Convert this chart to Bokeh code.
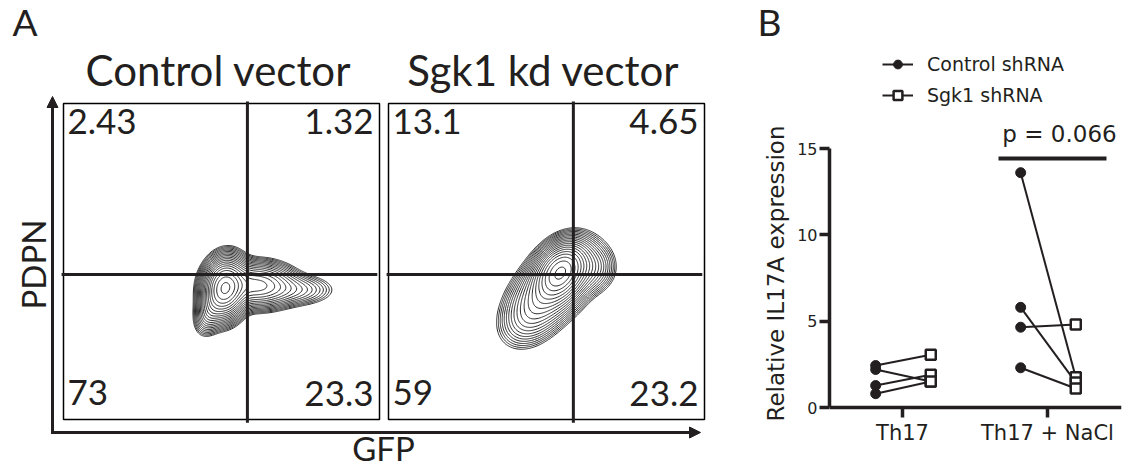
import numpy as np
from bokeh.plotting import figure
from bokeh.plotting.contour import contour_data
from bokeh.models import Range1d, Label, Arrow, NormalHead, FixedTicker, Legend, LegendItem
from bokeh.layouts import row
from bokeh.embed import file_html
from bokeh.resources import INLINE

FONT_A = "Lato"
FONT_B = "DejaVu Sans"
INK = "#231f20"

# ---------------- Panel A data ----------------
panel_titles = ["Control vector", "Sgk1 kd vector"]
ctrl_quadrants = ["2.43", "1.32", "73", "23.3"]   # UL, UR, LL, LR
kd_quadrants = ["13.1", "4.65", "59", "23.2"]
ctrl_gate = [0.582, 0.459]   # GFP gate, PDPN gate (fraction of axis)
kd_gate = [0.585, 0.459]
# density components (centre x, centre y, sd x, sd y, correlation, weight)
ctrl_cx = [0.51, 0.61, 0.73, 0.465]
ctrl_cy = [0.415, 0.425, 0.41, 0.345]
ctrl_sx = [0.033, 0.06, 0.065, 0.025]
ctrl_sy = [0.046, 0.035, 0.026, 0.038]
ctrl_rho = [0.1, 0.0, 0.0, 0.3]
ctrl_w = [1.0, 0.35, 0.07, 0.12]
kd_cx = [0.545, 0.52, 0.45, 0.64]
kd_cy = [0.47, 0.42, 0.32, 0.48]
kd_sx = [0.04, 0.065, 0.05, 0.04]
kd_sy = [0.045, 0.065, 0.05, 0.04]
kd_rho = [0.3, 0.5, 0.3, 0.0]
kd_w = [1.0, 0.4, 0.08, 0.1]

# ---------------- Panel B data ----------------
groups = ["Th17", "Th17 + NaCl"]
series = ["Control shRNA", "Sgk1 shRNA"]
th17_control = [2.43, 2.2, 1.27, 0.8]
th17_sgk1 = [3.06, 1.5, 1.9, 1.5]
nacl_control = [13.6, 5.8, 4.65, 2.3]
nacl_sgk1 = [1.75, 1.45, 4.8, 1.1]
y_ticks = [0, 5, 10, 15]
y_label = "Relative IL17A expression"
p_text = "p = 0.066"


def density(cx, cy, sx, sy, rho, w, n=301):
    g = np.linspace(0, 1, n)
    X, Y = np.meshgrid(g, g)
    Z = np.zeros_like(X)
    for a, b, s, t, r, k in zip(cx, cy, sx, sy, rho, w):
        dx = (X - a) / s
        dy = (Y - b) / t
        q = (dx * dx - 2 * r * dx * dy + dy * dy) / (1 - r * r)
        Z += k * np.exp(-0.5 * q)
    return g, g, Z / Z.max()


def text_label(x, cap_mid, text, size, font=FONT_A, align="left", **extra):
    """Label whose capital letters are vertically centred on cap_mid (page pixels)."""
    return Label(x=x, y=cap_mid - 0.07 * size, text=text, text_align=align, text_baseline="middle",
                 text_font=font, text_font_size=f"{size}px", text_color=INK, **extra)


# ---------------- Panel A figure (also hosts panel B's letter and y title) ----------------
W_TOTAL, HA = 1128, 467
WA = 790
pA = figure(width=WA, height=HA, x_range=Range1d(0, WA), y_range=Range1d(HA, 0),
            output_backend="svg", toolbar_location=None, min_border=0,
            x_axis_location=None, y_axis_location=None)
pA.grid.visible = False
pA.outline_line_color = None

BOX = 316
BOX_TOP = 103
BOX_BOTTOM = BOX_TOP + BOX
box_left = [63, 388]
levels = np.geomspace(0.012, 0.93, 20)

panels = [
    (ctrl_quadrants, ctrl_gate, (ctrl_cx, ctrl_cy, ctrl_sx, ctrl_sy, ctrl_rho, ctrl_w)),
    (kd_quadrants, kd_gate, (kd_cx, kd_cy, kd_sx, kd_sy, kd_rho, kd_w)),
]
for i, (quads, gate, comps) in enumerate(panels):
    x0 = box_left[i]
    xn, yn = f"gx{i}", f"gy{i}"
    pA.extra_x_ranges[xn] = Range1d((0 - x0) / BOX, (WA - x0) / BOX)
    pA.extra_y_ranges[yn] = Range1d((BOX_BOTTOM - HA) / BOX, BOX_BOTTOM / BOX)
    gx, gy, Z = density(*comps)
    cd = contour_data(gx, gy, Z, levels, want_fill=False, want_line=True)
    pA.multi_line(xs=cd.line_data.xs, ys=cd.line_data.ys, line_color="#2a2a2a", line_width=1,
                  x_range_name=xn, y_range_name=yn)
    pA.quad(left=0, right=1, bottom=0, top=1, fill_alpha=0, line_color="black", line_width=1.5,
            x_range_name=xn, y_range_name=yn)
    pA.segment(x0=[gate[0], -0.006], y0=[-0.01, gate[1]], x1=[gate[0], 0.993], y1=[1.006, gate[1]],
               line_color=INK, line_width=3, x_range_name=xn, y_range_name=yn)
    # quadrant percentages
    pA.add_layout(text_label(x0 + 4, BOX_TOP + 20, quads[0], 35))
    pA.add_layout(text_label(x0 + BOX - 6, BOX_TOP + 20, quads[1], 35, align="right"))
    pA.add_layout(text_label(x0 + 4, BOX_BOTTOM - 24.5, quads[2], 35))
    pA.add_layout(text_label(x0 + BOX - 6, BOX_BOTTOM - 24, quads[3], 35, align="right"))
    pA.add_layout(text_label(x0 + BOX / 2 - 3, 72.5, panel_titles[i], 42, align="center"))

# axis arrows
pA.add_layout(Arrow(end=NormalHead(size=11, fill_color=INK, line_color=INK), x_start=52, y_start=433,
                    x_end=52, y_end=96, line_width=3, line_color=INK))
pA.add_layout(Arrow(end=NormalHead(size=11, fill_color=INK, line_color=INK), x_start=50.5, y_start=432,
                    x_end=700, y_end=432, line_width=3, line_color=INK))
pA.add_layout(text_label(12, 24, "A", 37))
pA.add_layout(Label(x=32, y=264, text="PDPN", angle=np.pi / 2, text_align="center", text_baseline="middle",
                    text_font=FONT_A, text_font_size="33px", text_color=INK))
pA.add_layout(text_label(383, 450, "GFP", 33, align="center"))
# panel B letter and y-axis title (left of panel B's axis)
pA.add_layout(text_label(757, 24, "B", 37))
pA.add_layout(Label(x=775, y=273, text=y_label, angle=np.pi / 2, text_align="center",
                    text_baseline="middle", text_font=FONT_B, text_font_size="23px", text_color=INK))

# ---------------- Panel B figure ----------------
WB = W_TOTAL - WA
FL, FR = 829, 1121          # frame left/right in page pixels
FT, FB = 0, HA              # frame top/bottom in page pixels
ZERO_Y = 407                # page y of value 0
PX_UNIT_X = 145.0
PX_UNIT_Y = 259.0 / 15
pB = figure(width=WB, height=HA,
            x_range=Range1d(1 - (902 - FL) / PX_UNIT_X, 1 + (FR - 902) / PX_UNIT_X),
            y_range=Range1d(-(FB - ZERO_Y) / PX_UNIT_Y, (ZERO_Y - FT) / PX_UNIT_Y),
            output_backend="svg", toolbar_location=None,
            min_border_left=FL - WA, min_border_right=W_TOTAL - FR, min_border_top=0, min_border_bottom=0)
pB.grid.visible = False
pB.outline_line_color = None
pB.extra_x_ranges["px"] = Range1d(FL, FR)
pB.extra_y_ranges["py"] = Range1d(FB, FT)

DC, DS = -0.185, 0.195
gi = [1] * len(th17_control) + [2] * len(nacl_control)
ctrl_y = th17_control + nacl_control
sgk_y = th17_sgk1 + nacl_sgk1
xc = [g + DC for g in gi]
xsg = [g + DS for g in gi]
lines = pB.multi_line(xs=[[a, b] for a, b in zip(xc, xsg)], ys=[[a, b] for a, b in zip(ctrl_y, sgk_y)],
                      line_color=INK, line_width=2)
circ = pB.scatter(x=xc, y=ctrl_y, marker="circle", size=10, fill_color=INK, line_color=INK)
sq = pB.scatter(x=xsg, y=sgk_y, marker="square", size=10, fill_color="white", line_color=INK, line_width=2.5)

for ax in (pB.xaxis[0], pB.yaxis[0]):
    ax.axis_line_width = 3.5
    ax.axis_line_color = INK
    ax.major_tick_line_width = 3.5
    ax.major_tick_line_color = INK
    ax.major_tick_out = 10
    ax.major_tick_in = 0
    ax.minor_tick_line_color = None
    ax.major_label_text_font = FONT_B
    ax.major_label_text_color = INK
pB.yaxis.ticker = FixedTicker(ticks=y_ticks)
pB.yaxis.bounds = (0, 15)
pB.yaxis.major_label_text_font_size = "16px"
pB.yaxis.major_label_standoff = 2
pB.xaxis.ticker = FixedTicker(ticks=[1, 2])
pB.xaxis.major_label_overrides = {1: groups[0], 2: groups[1]}
pB.xaxis.major_label_text_font_size = "21px"
pB.xaxis.major_label_standoff = 3
pB.xaxis.fixed_location = 0

legend = Legend(items=[LegendItem(label=series[0], renderers=[lines, circ]),
                       LegendItem(label=series[1], renderers=[lines, sq])],
                location=(53, FB - 106), padding=0, margin=0, spacing=9, glyph_width=31, glyph_height=22,
                label_height=22, label_standoff=14, label_text_font=FONT_B, label_text_font_size="19px",
                label_text_color=INK, border_line_color=None, background_fill_alpha=0)
pB.add_layout(legend)

pB.segment(x0=[998], y0=[158], x1=[1106], y1=[158], line_width=4, line_color=INK,
           x_range_name="px", y_range_name="py")
pB.add_layout(text_label(1059, 135.5, p_text, 23, font=FONT_B, align="center",
                         x_range_name="px", y_range_name="py"))

layout = row(pA, pB)
open("out.html", "w").write(file_html(layout, INLINE))
